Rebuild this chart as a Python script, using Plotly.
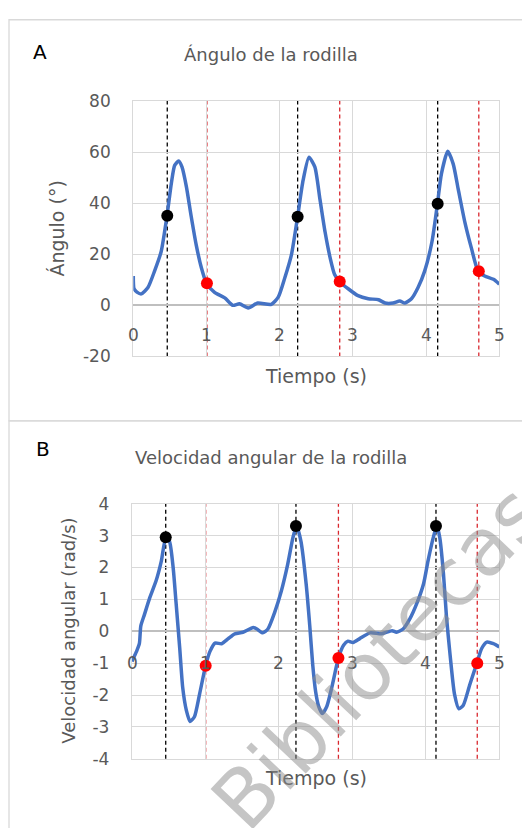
import plotly.graph_objects as go

# ---------------- data ----------------
t_angle = [0.00, 0.01, 0.05, 0.11, 0.20, 0.29, 0.38, 0.46, 0.52, 0.565, 0.62, 0.665, 0.725, 0.79, 0.86,
           0.93, 1.00, 1.11, 1.25, 1.36, 1.45, 1.57, 1.70, 1.885, 1.98, 2.07, 2.16, 2.245, 2.32, 2.40,
           2.48, 2.55, 2.62, 2.69, 2.75, 2.82, 2.94, 3.07, 3.21, 3.35, 3.44, 3.55, 3.64, 3.71, 3.80,
           3.89, 3.98, 4.08, 4.155, 4.21, 4.295, 4.37, 4.44, 4.53, 4.62, 4.71, 4.80, 4.92, 5.00]
angle = [11.5, 6.5, 5.2, 4.5, 7.0, 13.4, 21.0, 35.0, 47.8, 54.8, 56.5, 54.2, 46.5, 35.0, 23.6,
         14.7, 8.6, 5.1, 2.9, 0.0, 0.6, -1.0, 0.9, 0.4, 3.2, 10.8, 19.8, 34.8, 49.0, 58.0,
         54.2, 41.5, 28.7, 18.5, 12.1, 9.3, 6.4, 3.8, 2.6, 2.2, 0.9, 0.9, 1.7, 0.9, 2.6,
         7.0, 13.4, 24.9, 39.8, 51.6, 60.3, 55.4, 45.3, 32.5, 22.3, 13.4, 11.5, 10.2, 8.3]

t_vel = [0.00, 0.06, 0.10, 0.12, 0.17, 0.24, 0.33, 0.40, 0.46, 0.51, 0.56, 0.60, 0.65, 0.69, 0.74,
         0.79, 0.85, 0.92, 1.00, 1.06, 1.13, 1.22, 1.31, 1.40, 1.51, 1.65, 1.70, 1.78, 1.85, 1.94,
         2.03, 2.12, 2.19, 2.24, 2.30, 2.37, 2.42, 2.46, 2.50, 2.54, 2.59, 2.65, 2.72, 2.81, 2.88,
         2.94, 3.01, 3.10, 3.24, 3.40, 3.54, 3.60, 3.69, 3.78, 3.88, 3.97, 4.03, 4.10, 4.15, 4.19,
         4.24, 4.28, 4.33, 4.39, 4.45, 4.51, 4.60, 4.69, 4.76, 4.83, 4.92, 5.00]
vel = [-0.95, -0.64, -0.39, 0.17, 0.53, 1.04, 1.60, 2.21, 2.93, 2.82, 2.00, 0.89, -0.54, -1.76, -2.48,
       -2.83, -2.68, -1.97, -1.10, -0.64, -0.37, -0.39, -0.23, -0.08, -0.03, 0.12, 0.07, -0.05, 0.07, 0.58,
       1.24, 2.11, 2.93, 3.31, 2.82, 1.50, 0.17, -1.05, -1.90, -2.35, -2.58, -2.37, -1.76, -0.84, -0.44,
       -0.31, -0.35, -0.23, -0.05, -0.08, 0.02, -0.03, 0.07, 0.38, 0.89, 1.50, 2.21, 2.93, 3.31, 2.93,
       1.80, 0.48, -0.74, -1.97, -2.43, -2.32, -1.66, -1.03, -0.54, -0.34, -0.39, -0.49]

# event times and values (panel A)
a_black_t = [0.464, 2.245, 4.158]
a_black_v = [35.1, 34.7, 39.8]
a_red_t = [1.006, 2.82, 4.72]
a_red_v = [8.7, 9.3, 13.4]
# panel B
b_black_t = [0.459, 2.232, 4.138]
b_black_v = [2.95, 3.30, 3.30]
b_red_t = [1.003, 2.81, 4.70]
b_red_v = [-1.08, -0.84, -1.00]

x_ticks = [0, 1, 2, 3, 4, 5]
a_yticks = [-20, 0, 20, 40, 60, 80]
b_yticks = [-4, -3, -2, -1, 0, 1, 2, 3, 4]

# ---------------- figure ----------------
W, H = 522, 828
FONT = "DejaVu Sans"
GRAY = "#595959"
GRID = "#d9d9d9"
BLUE = "#4472C4"


def px(x):
    return x / W


def py(y):
    return 1 - y / H


fig = go.Figure()

fig.add_trace(go.Scatter(x=t_angle, y=angle, mode="lines", line=dict(color=BLUE, width=3.5, shape="spline", smoothing=0.6),
                         xaxis="x", yaxis="y", showlegend=False, hoverinfo="skip"))
fig.add_trace(go.Scatter(x=a_black_t, y=a_black_v, mode="markers", marker=dict(color="black", size=12),
                         xaxis="x", yaxis="y", showlegend=False))
fig.add_trace(go.Scatter(x=a_red_t, y=a_red_v, mode="markers", marker=dict(color="#ff0000", size=12),
                         xaxis="x", yaxis="y", showlegend=False))

fig.add_trace(go.Scatter(x=t_vel, y=vel, mode="lines", line=dict(color=BLUE, width=3.5, shape="spline", smoothing=0.6),
                         xaxis="x2", yaxis="y2", showlegend=False, hoverinfo="skip"))
fig.add_trace(go.Scatter(x=b_black_t, y=b_black_v, mode="markers", marker=dict(color="black", size=12),
                         xaxis="x2", yaxis="y2", showlegend=False))
fig.add_trace(go.Scatter(x=b_red_t, y=b_red_v, mode="markers", marker=dict(color="#ff0000", size=12),
                         xaxis="x2", yaxis="y2", showlegend=False))

# dashed event lines
for xr, yr, blk, red in [("x", "y", a_black_t, a_red_t), ("x2", "y2", b_black_t, b_red_t)]:
    for t in blk:
        fig.add_shape(type="line", xref=xr, yref=yr + " domain", x0=t, x1=t, y0=0, y1=1,
                      line=dict(color="black", width=1.3, dash="4px,3px"), layer="below")
    for t in red:
        fig.add_shape(type="line", xref=xr, yref=yr + " domain", x0=t, x1=t, y0=0, y1=1,
                      line=dict(color="#d9272e", width=1.3, dash="4px,3px"), layer="below")

# panel borders
fig.add_shape(type="rect", xref="paper", yref="paper", x0=px(9), x1=px(540), y0=py(421), y1=py(10),
              line=dict(color=GRID, width=1.3), layer="below")
fig.add_shape(type="rect", xref="paper", yref="paper", x0=px(9), x1=px(540), y0=py(850), y1=py(421),
              line=dict(color=GRID, width=1.3), layer="below")

axis_common = dict(showgrid=True, gridcolor=GRID, gridwidth=1.3, showline=True, mirror=True,
                   linecolor=GRID, linewidth=1.3, zeroline=True, zerolinecolor="#bfbfbf", zerolinewidth=1.6,
                   fixedrange=True, ticks="")

fig.update_layout(
    width=W, height=H, margin=dict(l=0, r=0, t=0, b=0),
    paper_bgcolor="white", plot_bgcolor="white",
    xaxis=dict(domain=[px(133.3), px(499.3)], range=[0, 5], tickvals=x_ticks, showticklabels=False,
               anchor="y", **axis_common),
    yaxis=dict(domain=[py(355), py(93.3)], range=[-20, 80], tickvals=a_yticks,
               ticktext=[str(v) for v in a_yticks], anchor="x",
               tickfont=dict(family=FONT, size=17, color=GRAY), ticklabelstandoff=18, **axis_common),
    xaxis2=dict(domain=[px(132), px(499.3)], range=[0, 5], tickvals=x_ticks, showticklabels=False,
                anchor="y2", **axis_common),
    yaxis2=dict(domain=[py(767.3), py(506)], range=[-4, 4], tickvals=b_yticks,
                ticktext=[str(v) for v in b_yticks], anchor="x2",
                tickfont=dict(family=FONT, size=17, color=GRAY), ticklabelstandoff=18, **axis_common),
)

C = dict(showarrow=False, xanchor="center", yanchor="middle")
ann = []
# x tick labels placed below the zero line (Excel style)
for v in x_ticks:
    ann.append(dict(x=v, y=-11.5, xref="x", yref="y", text=str(v),
                    font=dict(family=FONT, size=17, color=GRAY), **C))
    ann.append(dict(x=v, y=-1.0, xref="x2", yref="y2", text=str(v),
                    font=dict(family=FONT, size=17, color=GRAY), **C))

ann += [
    dict(x=px(40), y=py(43), xref="paper", yref="paper", text="A",
         font=dict(family=FONT, size=20, color="black"), **C),
    dict(x=px(271), y=py(46), xref="paper", yref="paper", text="Ángulo de la rodilla",
         font=dict(family=FONT, size=18, color=GRAY), **C),
    dict(x=px(57), y=py(224), xref="paper", yref="paper", text="Ángulo (°)", textangle=-90,
         font=dict(family=FONT, size=19, color=GRAY), **C),
    dict(x=px(316), y=py(375), xref="paper", yref="paper", text="Tiempo (s)",
         font=dict(family=FONT, size=19, color=GRAY), **C),
    dict(x=px(43), y=py(450), xref="paper", yref="paper", text="B",
         font=dict(family=FONT, size=20, color="black"), **C),
    dict(x=px(271), y=py(459), xref="paper", yref="paper", text="Velocidad angular de la rodilla",
         font=dict(family=FONT, size=18, color=GRAY), **C),
    dict(x=px(69), y=py(636), xref="paper", yref="paper", text="Velocidad angular (rad/s)",
         textangle=-90, font=dict(family=FONT, size=18, color=GRAY), **C),
    dict(x=px(316), y=py(787), xref="paper", yref="paper", text="Tiempo (s)",
         font=dict(family=FONT, size=19, color=GRAY), **C),
    # watermark
    dict(x=px(378), y=py(664), xref="paper", yref="paper", text="Bibliotecas",
         textangle=-46.5, font=dict(family=FONT, size=80, color="rgba(140,140,140,0.5)"), **C),
]
fig.update_layout(annotations=ann)

fig.write_html("out.html")
